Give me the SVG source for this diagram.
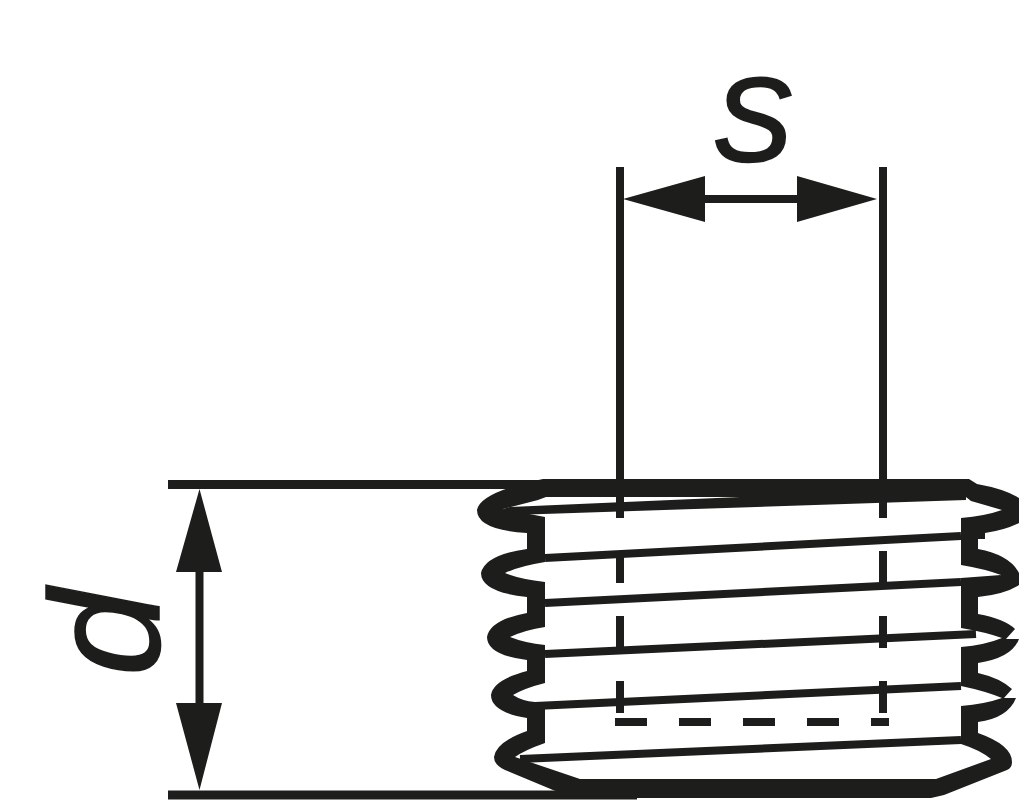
<svg xmlns="http://www.w3.org/2000/svg" width="1024" height="800" viewBox="0 0 1024 800">
<style>
.f{fill:#1d1d1b;stroke:none}
.l{stroke:#1d1d1b;fill:none}
.t{fill:#1d1d1b;stroke:#1d1d1b;font-family:"Liberation Sans",Arial,sans-serif;font-style:italic}
</style>
<rect width="1024" height="800" fill="#fff"/>
<g id="thread">
<path class="f" fill-rule="evenodd" d="M543 479L969 479L977 484Q1005 489 1019 498L1019 523Q1005 530 985 533L985 539L978 539L978 549Q1010 555 1019 573L1019 585Q1005 594 978 597L978 614Q1005 619 1015 629L1006 639L1019 639Q1012 658 978 663L978 673Q1000 678 1012 689L1004 698L1016 698Q1008 718 978 722L978 733Q1012 745 1012 762Q1012 768 1007 770L944 795L931 798L575 798L553 790L505 770Q494 765 494 757Q496 742 527 731L527 718Q491 712 491 695Q493 680 527 671L527 660Q487 655 487 637Q490 620 527 613L527 597Q481 592 481 573Q485 555 527 549L527 533Q477 530 477 510Q480 492 543 479ZM546 497L538 500L503 509L545 517L545 562Q520 566 505 573Q520 579 545 582L545 627Q525 630 510 637Q525 643 545 645L545 683Q525 688 513 695Q522 701 535 702L545 705L545 743Q525 750 515 757L580 779L936 779L991 759Q980 750 961 744L961 706Q985 704 1002 698Q985 691 961 686L961 647Q985 645 1002 638Q985 632 961 628L961 587Q985 584 1001 575Q985 569 961 565L961 518Q985 516 1002 510Q985 505 971 501L966 497Z"/>
<path class="f" d="M510 507L740 497L966 497L966 500L513 515L503 509Z"/>
<path class="f" d="M961 578L1001 575L985 590L961 590Z"/>
</g>
<g id="thread-lines" class="l" stroke-width="8">
<path d="M545 558L961 536"/>
<path d="M545 603L961 582"/>
<path d="M545 654L976 634"/>
<path d="M535 706L961 686"/>
<path d="M520 759L961 740"/>
</g>
<g id="connectors">
<path class="l" stroke-width="8" d="M620 167V518M620 551V583M620 616V648M620 681V713"/>
<path class="l" stroke-width="8" d="M883 167V518M883 551V583M883 616V648M883 681V713"/>
<path class="l" stroke-width="8" stroke-dasharray="32 32" d="M615 722H889"/>
<path class="l" stroke-width="9" d="M168 484.500H545M168 795H637"/>
<path class="l" stroke-width="8" d="M700 199H800M199.500 570V705"/>
<path class="f" d="M623 199L705 176V222ZM877 199L797 176V222ZM199.500 489L176 572H222ZM199.500 790L176 703H222Z"/>
</g>
<g id="label-s"><text class="t" x="713" y="161" font-size="118" stroke-width="2.500">S</text></g>
<g id="label-d"><text class="t" transform="translate(159 676) rotate(-90)" font-size="156" stroke-width="1.500">d</text></g>
</svg>
